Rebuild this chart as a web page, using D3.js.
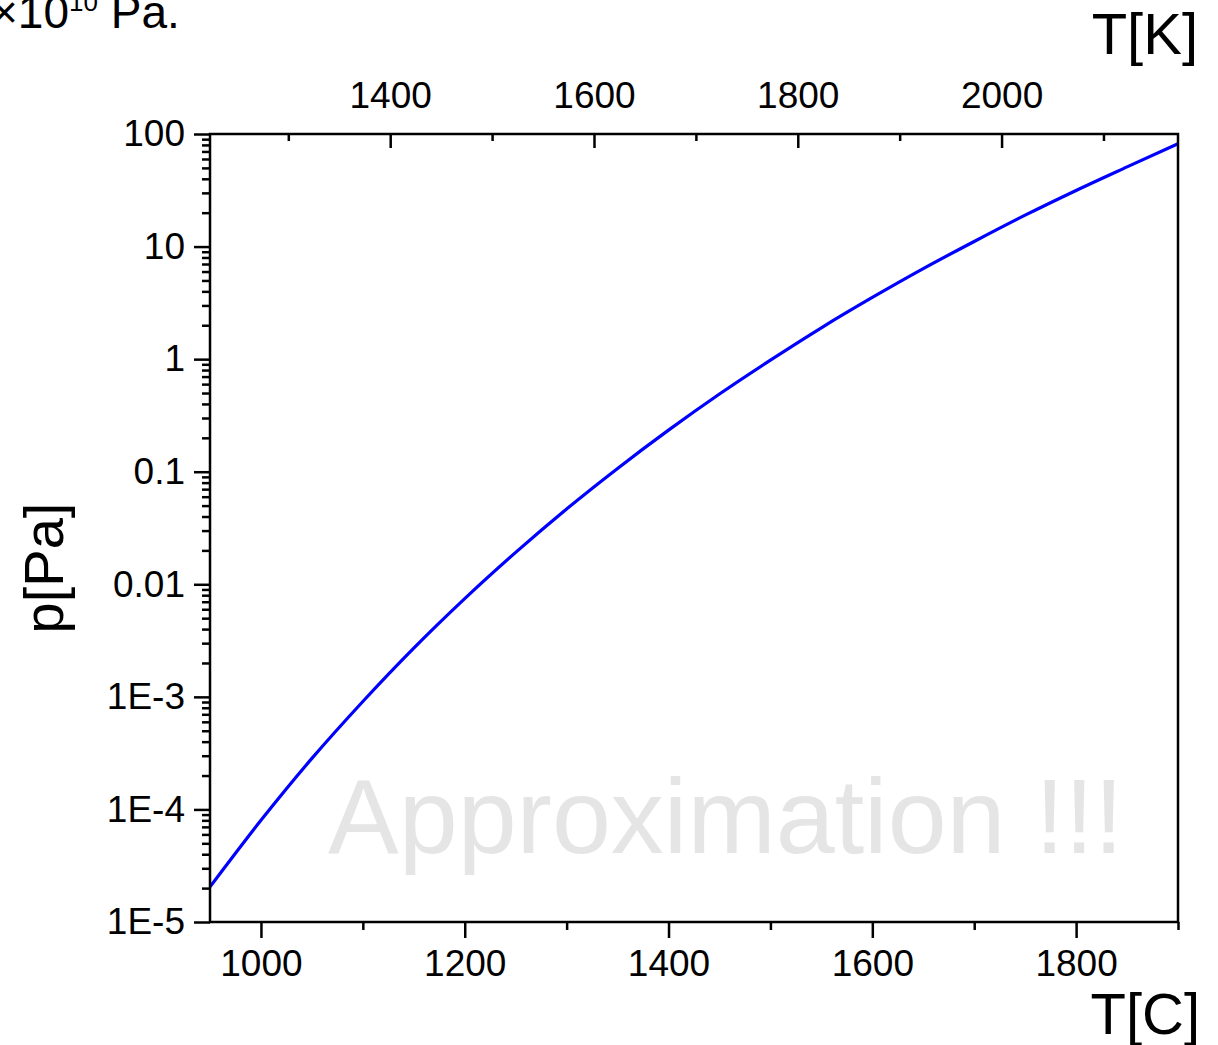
<!DOCTYPE html>
<html>
<head>
<meta charset="utf-8">
<script src="https://cdn.jsdelivr.net/npm/d3@7"></script>
<style>
  body { margin: 0; background: #fff; }
  svg { display: block; font-family: "Liberation Sans", Arial, sans-serif; }
</style>
</head>
<body>
<div id="chart"></div>
<script>
// Vapour pressure curve
const tempC = [950, 1000, 1050, 1100, 1150, 1200, 1250, 1300, 1350, 1400,
               1450, 1500, 1550, 1600, 1650, 1700, 1750, 1800, 1850, 1900];
const pressure = [2.05e-5, 8.0e-5, 2.84e-4, 9.1e-4, 2.71e-3, 7.46e-3, 0.0192, 0.0467, 0.107, 0.234,
                  0.49, 0.98, 1.90, 3.53, 6.37, 11.1, 19.0, 31.5, 51, 82];

const xMajorC = [1000, 1200, 1400, 1600, 1800];
const xMinorC = [1100, 1300, 1500, 1700, 1900];
const xMajorK = [1400, 1600, 1800, 2000];
const xMinorK = [1300, 1500, 1700, 1900, 2100];
const yMajor = [1e-5, 1e-4, 1e-3, 0.01, 0.1, 1, 10, 100];
const yLabels = ['1E-5', '1E-4', '1E-3', '0.01', '0.1', '1', '10', '100'];

const W = 1218, H = 1045;
const M = { left: 210, right: 1178, top: 134, bottom: 922 };

const svg = d3.select('#chart').append('svg')
  .attr('width', W).attr('height', H);

const x = d3.scaleLinear().domain([950, 1900]).range([M.left, M.right]);
const xK = d3.scaleLinear().domain([950 + 273.15, 1900 + 273.15]).range([M.left, M.right]);
const y = d3.scaleLog().domain([1e-5, 100]).range([M.bottom, M.top]);

// minor ticks for the log axis: 2..9 in every decade
const yMinor = [];
yMajor.slice(0, -1).forEach(d => { for (let k = 2; k <= 9; k++) yMinor.push(d * k); });

function styleAxis(g) {
  g.selectAll('.domain').remove();
  g.selectAll('line').attr('stroke', '#000').attr('stroke-width', 2.5);
  g.selectAll('text').attr('fill', '#000').attr('font-size', '37px');
}

// Curve
const line = d3.line()
  .x((d, i) => x(tempC[i]))
  .y(d => y(d))
  .curve(d3.curveMonotoneX);

svg.append('path')
  .datum(pressure)
  .attr('fill', 'none')
  .attr('stroke', '#0000ff')
  .attr('stroke-width', 3.2)
  .attr('d', line);

// Watermark
svg.append('text')
  .attr('x', 328).attr('y', 853)
  .attr('font-size', '106px')
  .attr('fill', '#e5e5e5')
  .text('Approximation !!!');

// Bottom axis (T[C])
svg.append('g').attr('transform', `translate(0,${M.bottom})`)
  .call(d3.axisBottom(x).tickValues(xMajorC).tickSize(16).tickPadding(12).tickFormat(d3.format('d')))
  .call(styleAxis);
svg.append('g').attr('transform', `translate(0,${M.bottom})`)
  .call(d3.axisBottom(x).tickValues(xMinorC).tickSize(8).tickFormat(''))
  .call(styleAxis);

// Top axis (T[K]), ticks point inward
svg.append('g').attr('transform', `translate(0,${M.top})`)
  .call(d3.axisTop(xK).tickValues(xMajorK).tickSize(-14).tickPadding(26).tickFormat(d3.format('d')))
  .call(styleAxis);
svg.append('g').attr('transform', `translate(0,${M.top})`)
  .call(d3.axisTop(xK).tickValues(xMinorK).tickSize(-7).tickFormat(''))
  .call(styleAxis);

// Left axis (log)
svg.append('g').attr('transform', `translate(${M.left},0)`)
  .call(d3.axisLeft(y).tickValues(yMajor).tickSize(16).tickPadding(9)
    .tickFormat(d => yLabels[yMajor.indexOf(d)]))
  .call(styleAxis);
svg.append('g').attr('transform', `translate(${M.left},0)`)
  .call(d3.axisLeft(y).tickValues(yMinor).tickSize(8).tickFormat(''))
  .call(styleAxis);

// Frame
svg.append('rect')
  .attr('x', M.left).attr('y', M.top)
  .attr('width', M.right - M.left).attr('height', M.bottom - M.top)
  .attr('fill', 'none').attr('stroke', '#000').attr('stroke-width', 2.5);

// Axis titles
svg.append('text')
  .attr('x', 1198).attr('y', 54)
  .attr('text-anchor', 'end').attr('font-size', '58px')
  .text('T[K]');
svg.append('text')
  .attr('x', 1200).attr('y', 1034)
  .attr('text-anchor', 'end').attr('font-size', '58px')
  .text('T[C]');
svg.append('text')
  .attr('transform', 'translate(63,568) rotate(-90)')
  .attr('text-anchor', 'middle').attr('font-size', '56px')
  .text('p[Pa]');

// Clipped note at the top-left corner (cut off in the original too)
const note = svg.append('text')
  .attr('x', -9).attr('y', 28)
  .attr('font-size', '46px');
note.append('tspan').text('×10');
note.append('tspan').attr('font-size', '26px').attr('dy', -17).text('10');
note.append('tspan').attr('dy', 17).text(' Pa.');
</script>
</body>
</html>
